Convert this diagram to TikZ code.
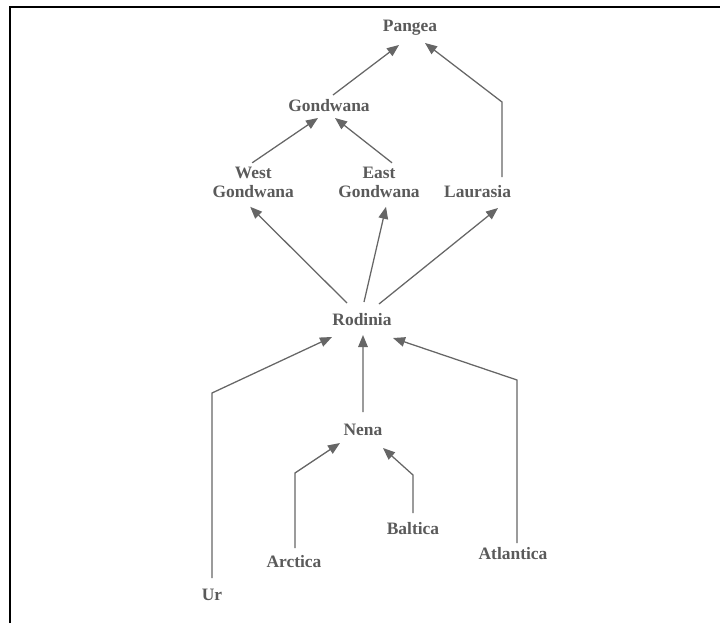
\documentclass[tikz,border=0pt]{standalone}
\usepackage{fontspec}
\setmainfont{Liberation Serif}
\usepackage{xcolor}
\usetikzlibrary{arrows.meta}
\definecolor{txtgray}{HTML}{5A5A5A}
\definecolor{lngray}{HTML}{666666}

\begin{document}
\begin{tikzpicture}[
  cont/.style={font=\fontsize{12.4}{13.5}\selectfont\bfseries, text=txtgray,
               inner sep=1pt, align=center},
  arr/.style={-{Triangle[length=3mm, width=2.4mm]}, draw=lngray, line width=0.9pt},
]
\useasboundingbox (0,0) rectangle (18,-15.575);
% frame
\draw[line width=1.2pt] (0.25,-15.575) -- (0.25,-0.175) -- (18,-0.175);
% supercontinents
\node[cont] at (10.25,-0.7)    (pangea)    {Pangea};
\node[cont] at (8.225,-2.65)   (gondwana)  {Gondwana};
\node[cont] at (6.33,-4.56)    (wgond)     {West\\Gondwana};
\node[cont] at (9.475,-4.56)   (egond)     {East\\Gondwana};
\node[cont] at (11.94,-4.8)    (laurasia)  {Laurasia};
\node[cont] at (9.05,-8.0)     (rodinia)   {Rodinia};
\node[cont] at (9.075,-10.75)  (nena)      {Nena};
\node[cont] at (10.325,-13.225)(baltica)   {Baltica};
\node[cont] at (7.35,-14.05)   (arctica)   {Arctica};
\node[cont] at (12.825,-13.85) (atlantica) {Atlantica};
\node[cont] at (5.3,-14.875)   (ur)        {Ur};
% arrows
\draw[arr] ([shift={(0.1,0.275)}]gondwana.center) -- ([shift={(-0.275,-0.425)}]pangea.center);
\draw[arr] ([shift={(0.61,0.375)}]laurasia.center) -- ++(0,1.875)
           -- ([shift={(0.375,-0.375)}]pangea.center);
\draw[arr] ([shift={(-0.025,0.49)}]wgond.center) -- ([shift={(-0.275,-0.3)}]gondwana.center);
\draw[arr] ([shift={(0.325,0.49)}]egond.center) -- ([shift={(0.15,-0.3)}]gondwana.center);
\draw[arr] ([shift={(-0.375,0.425)}]rodinia.center) -- ([shift={(-0.075,-0.61)}]wgond.center);
\draw[arr] ([shift={(0.05,0.45)}]rodinia.center) -- ([shift={(0.175,-0.61)}]egond.center);
\draw[arr] ([shift={(0.425,0.4)}]rodinia.center) -- ([shift={(0.51,-0.4)}]laurasia.center);
\draw[arr] ([shift={(0,0.425)}]ur.center) -- ++(0,4.625)
           -- ([shift={(-0.75,-0.425)}]rodinia.center);
\draw[arr] ([shift={(0,0.45)}]nena.center) -- ([shift={(0.025,-0.375)}]rodinia.center);
\draw[arr] ([shift={(0.1,0.275)}]atlantica.center) -- ++(0,4.075)
           -- ([shift={(0.775,-0.45)}]rodinia.center);
\draw[arr] ([shift={(0.025,0.35)}]arctica.center) -- ++(0,1.875)
           -- ([shift={(-0.575,-0.325)}]nena.center);
\draw[arr] ([shift={(0,0.4)}]baltica.center) -- ++(0,0.95)
           -- ([shift={(0.5,-0.45)}]nena.center);
\end{tikzpicture}
\end{document}
